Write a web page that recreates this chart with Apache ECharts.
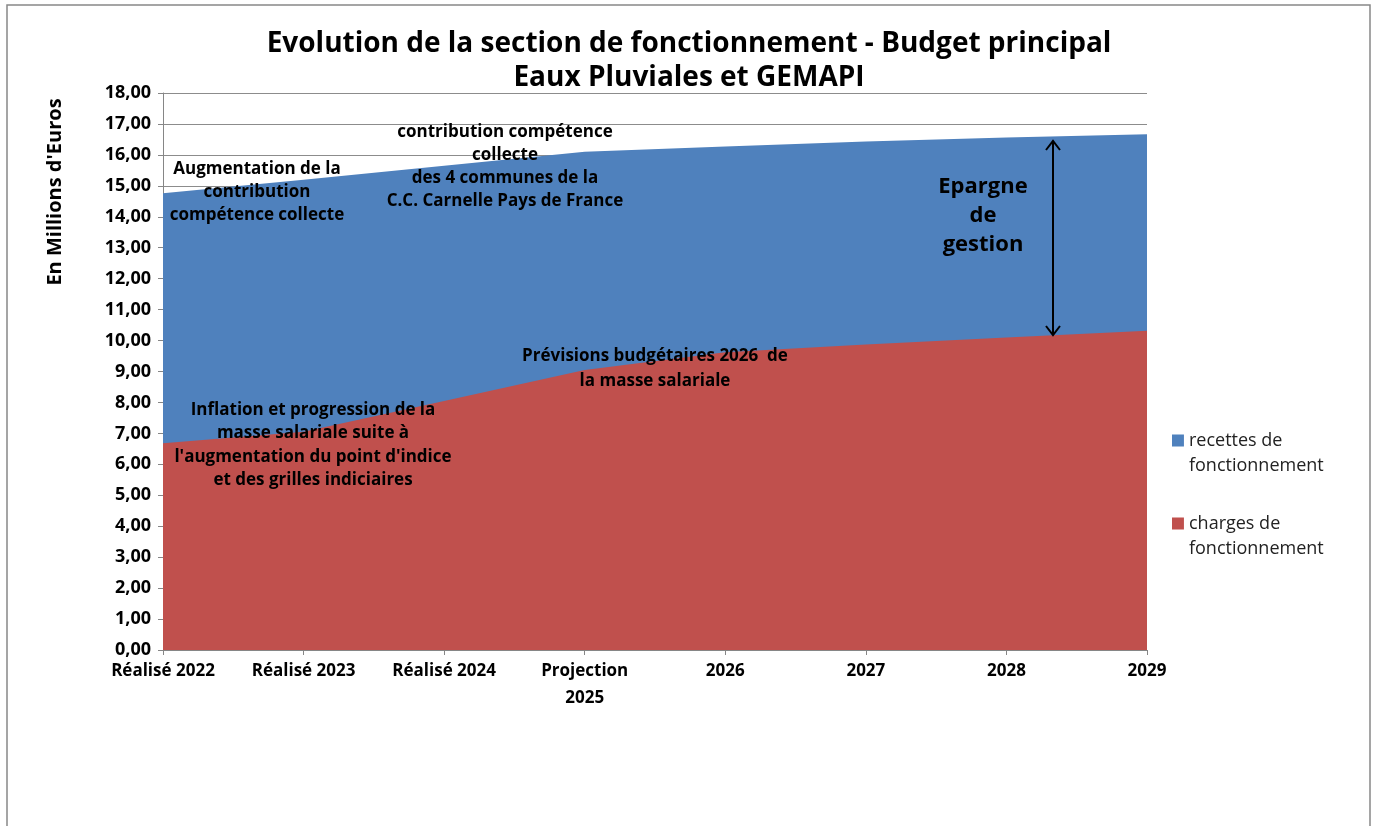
<!DOCTYPE html>
<html>
<head>
<meta charset="utf-8">
<script src="https://cdn.jsdelivr.net/npm/echarts@6/dist/echarts.min.js"></script>
<style>
  html, body { margin: 0; padding: 0; background: #fff; }
  #chart { width: 1378px; height: 826px; }
</style>
</head>
<body>
<div id="chart"></div>
<script>
// catégories et valeurs (millions d'euros)
var categories = ['Réalisé 2022', 'Réalisé 2023', 'Réalisé 2024', 'Projection\n2025', '2026', '2027', '2028', '2029'];
var recettes = [14.76, 15.20, 15.65, 16.10, 16.27, 16.43, 16.56, 16.67];
var charges = [6.68, 7.05, 8.05, 9.05, 9.62, 9.87, 10.10, 10.32];
var seriesNames = ['recettes de fonctionnement', 'charges de fonctionnement'];

var FONT = '"Open Sans"';
var chart = echarts.init(document.getElementById('chart'));

var annot = function (x, y, txt, size, lh) {
  return {
    type: 'text', x: x, y: y, z: 100,
    style: {
      text: txt, fill: '#000', font: 'bold ' + size + 'px ' + FONT,
      align: 'center', verticalAlign: 'top', lineHeight: lh
    }
  };
};

var option = {
  animation: false,
  backgroundColor: '#fff',
  title: {
    text: 'Evolution de la section de fonctionnement - Budget principal\nEaux Pluviales et GEMAPI',
    left: 'center',
    top: 22,
    textStyle: { fontFamily: FONT, fontSize: 28, fontWeight: 'bold', color: '#000', lineHeight: 34 }
  },
  legend: {
    orient: 'vertical',
    left: 1167,
    top: 423,
    itemWidth: 12,
    itemHeight: 37,
    itemGap: 33,
    // carré aligné sur la première ligne du libellé
    icon: 'path://M0,0L10,0L10,10L0,10Z M0,31L0.01,31L0,31Z',
    data: seriesNames,
    formatter: function (n) { return n.replace(' fonctionnement', '\nfonctionnement'); },
    textStyle: { fontFamily: FONT, fontSize: 18, color: '#222', lineHeight: 25 }
  },
  grid: { left: 163, right: 231, top: 93, bottom: 176 },
  xAxis: {
    type: 'category',
    boundaryGap: false,
    data: categories,
    axisLine: { lineStyle: { color: '#868686', width: 1 } },
    axisTick: { show: true, length: 5, lineStyle: { color: '#868686' } },
    axisLabel: {
      fontFamily: FONT, fontSize: 17, fontWeight: 'bold', color: '#000',
      margin: 8, lineHeight: 27, interval: 0
    },
    splitLine: { show: false }
  },
  yAxis: {
    type: 'value',
    min: 0, max: 18, interval: 1,
    axisLine: { show: true, lineStyle: { color: '#868686' } },
    axisTick: { show: true, length: 5, lineStyle: { color: '#868686' } },
    axisLabel: {
      fontFamily: FONT, fontSize: 18, fontWeight: 'bold', color: '#000', margin: 12,
      formatter: function (v) { return v.toFixed(2).replace('.', ','); }
    },
    splitLine: { show: true, lineStyle: { color: '#8c8c8c', width: 1 } }
  },
  series: [
    {
      name: seriesNames[0], type: 'line', data: recettes,
      symbol: 'none', lineStyle: { width: 0 },
      itemStyle: { color: '#4F81BD' },
      areaStyle: { color: '#4F81BD', opacity: 1 }, z: 2
    },
    {
      name: seriesNames[1], type: 'line', data: charges,
      symbol: 'none', lineStyle: { width: 0 },
      itemStyle: { color: '#C0504D' },
      areaStyle: { color: '#C0504D', opacity: 1 }, z: 3
    }
  ],
  graphic: [
    { type: 'rect', shape: { x: 7, y: 5, width: 1363, height: 830 },
      style: { fill: 'none', stroke: '#888', lineWidth: 1.5 }, silent: true },
    { type: 'text', x: 55, y: 192, rotation: Math.PI / 2, z: 100,
      style: { text: "En Millions d'Euros", fill: '#000', font: 'bold 20px ' + FONT,
               align: 'center', verticalAlign: 'middle' } },
    annot(257, 158, 'Augmentation de la\ncontribution\ncompétence collecte', 17, 23),
    annot(505, 121, 'contribution compétence\ncollecte\ndes 4 communes de la\nC.C. Carnelle Pays de France', 17, 23),
    annot(983, 172, 'Epargne\nde\ngestion', 22, 29),
    annot(655, 344, 'Prévisions budgétaires 2026  de\nla masse salariale', 17, 25),
    annot(313, 398, "Inflation et progression de la\nmasse salariale suite à\nl'augmentation du point d'indice\net des grilles indiciaires", 17, 23.5),
    // flèche double "Epargne de gestion"
    { type: 'line', z: 100, shape: { x1: 1053, y1: 141, x2: 1053, y2: 335 },
      style: { stroke: '#000', lineWidth: 2 } },
    { type: 'polyline', z: 100, shape: { points: [[1046, 150], [1053, 141], [1060, 150]] },
      style: { stroke: '#000', lineWidth: 2, fill: 'none' } },
    { type: 'polyline', z: 100, shape: { points: [[1046, 326], [1053, 335], [1060, 326]] },
      style: { stroke: '#000', lineWidth: 2, fill: 'none' } }
  ]
};

chart.setOption(option);
</script>
</body>
</html>
